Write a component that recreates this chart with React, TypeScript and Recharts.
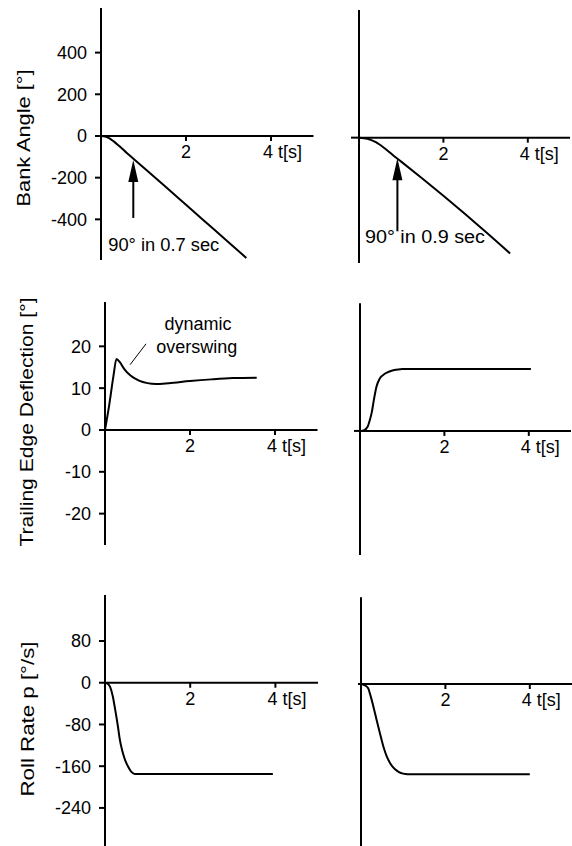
import React from 'react';
import { LineChart, Line, XAxis, YAxis, ReferenceLine, ReferenceDot } from 'recharts';

const FONT = '"Liberation Sans", Arial, Helvetica, sans-serif';

// ---- Data ----
// Bank angle, 0.7 s case
const bankTimeA = [0, 0.1, 0.2, 0.3, 0.4, 0.5, 0.6, 0.75, 1.0, 1.5, 2.0, 2.5, 3.0, 3.42];
const bankValA = [0, -3, -11, -26, -43, -61, -80, -107, -151, -240, -330, -420, -510, -585];
// Bank angle, 0.9 s case
const bankTimeB = [0, 0.2, 0.4, 0.6, 0.8, 1.0, 1.5, 2.0, 2.5, 3.0, 3.58];
const bankValB = [0, -5, -22, -50, -83, -115, -196, -279, -364, -451, -555];
// Trailing edge deflection, 0.7 s case (dynamic overswing)
const tedTimeA = [0, 0.1, 0.2, 0.27, 0.35, 0.45, 0.6, 0.8, 1.0, 1.2, 1.5, 2.0, 2.5, 3.0, 3.57];
const tedValA = [0, 6, 13, 17, 16.2, 14.6, 13, 11.8, 11.2, 11.0, 11.2, 11.7, 12.1, 12.4, 12.5];
// Trailing edge deflection, 0.9 s case
const tedTimeB = [0, 0.1, 0.18, 0.23, 0.28, 0.33, 0.39, 0.46, 0.55, 0.65, 0.75, 0.9, 1.0, 4.05];
const tedValB = [0, 0.2, 1, 2.5, 4.5, 7.5, 10.6, 12.4, 13.4, 14.0, 14.4, 14.7, 14.8, 14.8];
// Roll rate, 0.7 s case
const rollTimeA = [0, 0.06, 0.12, 0.18, 0.24, 0.3, 0.35, 0.41, 0.47, 0.55, 0.62, 0.7, 0.8, 3.94];
const rollValA = [0, -2, -8, -25, -52, -82, -110, -132, -148, -162, -171, -175, -175, -175];
// Roll rate, 0.9 s case
const rollTimeB = [0, 0.08, 0.17, 0.21, 0.29, 0.37, 0.45, 0.53, 0.61, 0.69, 0.8, 0.9, 1.0, 1.1, 4.0];
const rollValB = [0, -2, -8, -18, -42, -69, -95, -120, -139, -152, -163, -169, -172, -173, -173];

// Tick labels
const bankTicks = [-400, -200, 0, 200, 400];
const tedTicks = [-20, -10, 0, 10, 20];
const rollTicks = [-240, -160, -80, 0, 80];
const timeTickPlain = 2;
const timeTickUnit = 4;
const timeUnit = 't[s]';

const titles = {
  bank: 'Bank Angle [°]',
  ted: 'Trailing Edge Deflection [°]',
  roll: 'Roll Rate p [°/s]',
};
const notes = {
  a: '90° in 0.7 sec',
  b: '90° in 0.9 sec',
  dyn1: 'dynamic',
  dyn2: 'overswing',
};

const toRows = (ts: number[], vs: number[]) => ts.map((t, i) => ({ t, v: vs[i] }));

const tickShape = (label: string, suffix?: string) => (p: any) => (
  <g>
    <line x1={p.cx} y1={p.cy} x2={p.cx} y2={p.cy + 5} stroke="#000" strokeWidth={2} />
    {suffix ? (
      <text x={p.cx - 8} y={p.cy + 22} fontSize={18} fontFamily={FONT} fill="#000">
        {label} {suffix}
      </text>
    ) : (
      <text x={p.cx} y={p.cy + 22} textAnchor="middle" fontSize={18} fontFamily={FONT} fill="#000">
        {label}
      </text>
    )}
  </g>
);

const arrowShape = (len: number) => (p: any) => (
  <g>
    <polygon
      points={`${p.cx},${p.cy} ${p.cx - 5},${p.cy + 22} ${p.cx + 5},${p.cy + 22}`}
      fill="#000"
    />
    <line x1={p.cx} y1={p.cy + 18} x2={p.cx} y2={p.cy + len} stroke="#000" strokeWidth={2} />
  </g>
);

const textShape = (text: string, anchor: 'start' | 'middle', length?: number) => (p: any) => (
  <text
    x={p.cx}
    y={p.cy}
    textAnchor={anchor}
    fontSize={18}
    fontFamily={FONT}
    fill="#000"
    {...(length ? { textLength: length, lengthAdjust: 'spacingAndGlyphs' } : {})}
  >
    {text}
  </text>
);

const titleContent = (text: string, x: number, y: number, length: number) => () => (
  <text
    x={x}
    y={y}
    transform={`rotate(-90, ${x}, ${y})`}
    textAnchor="middle"
    fontSize={19}
    fontFamily={FONT}
    fill="#000"
    textLength={length}
    lengthAdjust="spacingAndGlyphs"
  >
    {text}
  </text>
);

type PanelProps = {
  left: number;
  top: number;
  width: number;
  height: number;
  margin: { top: number; right: number; bottom: number; left: number };
  axisWidth: number;
  yDomain: [number, number];
  ticks: number[] | null;
  zeroTick: number;
  rows: { t: number; v: number }[];
  title?: React.ReactNode;
  children?: React.ReactNode;
};

function Panel(props: PanelProps) {
  const { left, top, width, height, margin, axisWidth, yDomain, ticks, zeroTick, rows, title, children } = props;
  return (
    <div style={{ position: 'absolute', left, top, width, height }}>
      <LineChart width={width} height={height} data={rows} margin={margin}>
        <XAxis type="number" dataKey="t" domain={[0, 5]} allowDataOverflow hide />
        {ticks ? (
          <YAxis
            type="number"
            width={axisWidth}
            domain={yDomain}
            allowDataOverflow
            ticks={ticks}
            interval={0}
            tickSize={6}
            tickMargin={8}
            axisLine={{ stroke: '#000', strokeWidth: 2 }}
            tickLine={{ stroke: '#000', strokeWidth: 2 }}
            tick={{ fill: '#000', fontSize: 18, fontFamily: FONT }}
            label={title ? { content: title as any } : undefined}
          />
        ) : (
          <YAxis
            type="number"
            width={axisWidth}
            domain={yDomain}
            allowDataOverflow
            ticks={[0]}
            interval={0}
            tickSize={zeroTick}
            tickFormatter={() => ''}
            axisLine={{ stroke: '#000', strokeWidth: 2 }}
            tickLine={{ stroke: '#000', strokeWidth: 2 }}
          />
        )}
        <ReferenceLine y={0} stroke="#000" strokeWidth={2} />
        <ReferenceDot x={timeTickPlain} y={0} r={1} shape={tickShape(String(timeTickPlain))} />
        <ReferenceDot x={timeTickUnit} y={0} r={1} shape={tickShape(String(timeTickUnit), timeUnit)} />
        {children}
        <Line
          type="monotone"
          dataKey="v"
          stroke="#000"
          strokeWidth={2}
          dot={false}
          isAnimationActive={false}
        />
      </LineChart>
    </div>
  );
}

export default function App() {
  return (
    <div style={{ position: 'absolute', left: 0, top: 0, width: 572, height: 846, background: '#fff', overflow: 'hidden' }}>
      {/* Row 1: bank angle */}
      <Panel
        left={0}
        top={0}
        width={320}
        height={270}
        margin={{ top: 8, right: 6.5, bottom: 10, left: 0 }}
        axisWidth={101}
        yDomain={[-595, 614]}
        ticks={bankTicks}
        zeroTick={6}
        rows={toRows(bankTimeA, bankValA)}
        title={titleContent(titles.bank, 30, 138, 137)}
      >
        <ReferenceDot x={0.76} y={-115} r={1} shape={arrowShape(58)} />
        <ReferenceDot x={0.17} y={-552} r={1} shape={textShape(notes.a, 'start', 111)} />
      </Panel>
      <Panel
        left={300}
        top={0}
        width={272}
        height={270}
        margin={{ top: 10, right: 2, bottom: 7, left: 0 }}
        axisWidth={59}
        yDomain={[-601, 612]}
        ticks={null}
        zeroTick={8}
        rows={toRows(bankTimeB, bankValB)}
      >
        <ReferenceDot x={0.91} y={-99} r={1} shape={arrowShape(73)} />
        <ReferenceDot x={0.14} y={-505} r={1} shape={textShape(notes.b, 'start', 120)} />
      </Panel>

      {/* Row 2: trailing edge deflection */}
      <Panel
        left={0}
        top={290}
        width={325}
        height={265}
        margin={{ top: 12, right: 7.5, bottom: 10, left: 0 }}
        axisWidth={105}
        yDomain={[-27.5, 30.6]}
        ticks={tedTicks}
        zeroTick={6}
        rows={toRows(tedTimeA, tedValA)}
        title={titleContent(titles.ted, 33, 132, 249)}
      >
        <ReferenceLine
          segment={[{ x: 0.59, y: 15.6 }, { x: 0.965, y: 20.6 }]}
          stroke="#000"
          strokeWidth={1}
        />
        <ReferenceDot x={2.19} y={23.9} r={1} shape={textShape(notes.dyn1, 'middle')} />
        <ReferenceDot x={2.16} y={18.5} r={1} shape={textShape(notes.dyn2, 'middle')} />
      </Panel>
      <Panel
        left={300}
        top={290}
        width={272}
        height={265}
        margin={{ top: 13.3, right: 1, bottom: 0, left: 0 }}
        axisWidth={60}
        yDomain={[-29.7, 30.55]}
        ticks={null}
        zeroTick={6}
        rows={toRows(tedTimeB, tedValB)}
      />

      {/* Row 3: roll rate */}
      <Panel
        left={0}
        top={580}
        width={325}
        height={266}
        margin={{ top: 15, right: 7, bottom: 0, left: 0 }}
        axisWidth={105}
        yDomain={[-313, 168.2]}
        ticks={rollTicks}
        zeroTick={6}
        rows={toRows(rollTimeA, rollValA)}
        title={titleContent(titles.roll, 34, 139, 155)}
      />
      <Panel
        left={300}
        top={580}
        width={272}
        height={266}
        margin={{ top: 17.3, right: 0, bottom: 0, left: 0 }}
        axisWidth={61}
        yDomain={[-310.8, 166.3]}
        ticks={null}
        zeroTick={3}
        rows={toRows(rollTimeB, rollValB)}
      />
    </div>
  );
}
